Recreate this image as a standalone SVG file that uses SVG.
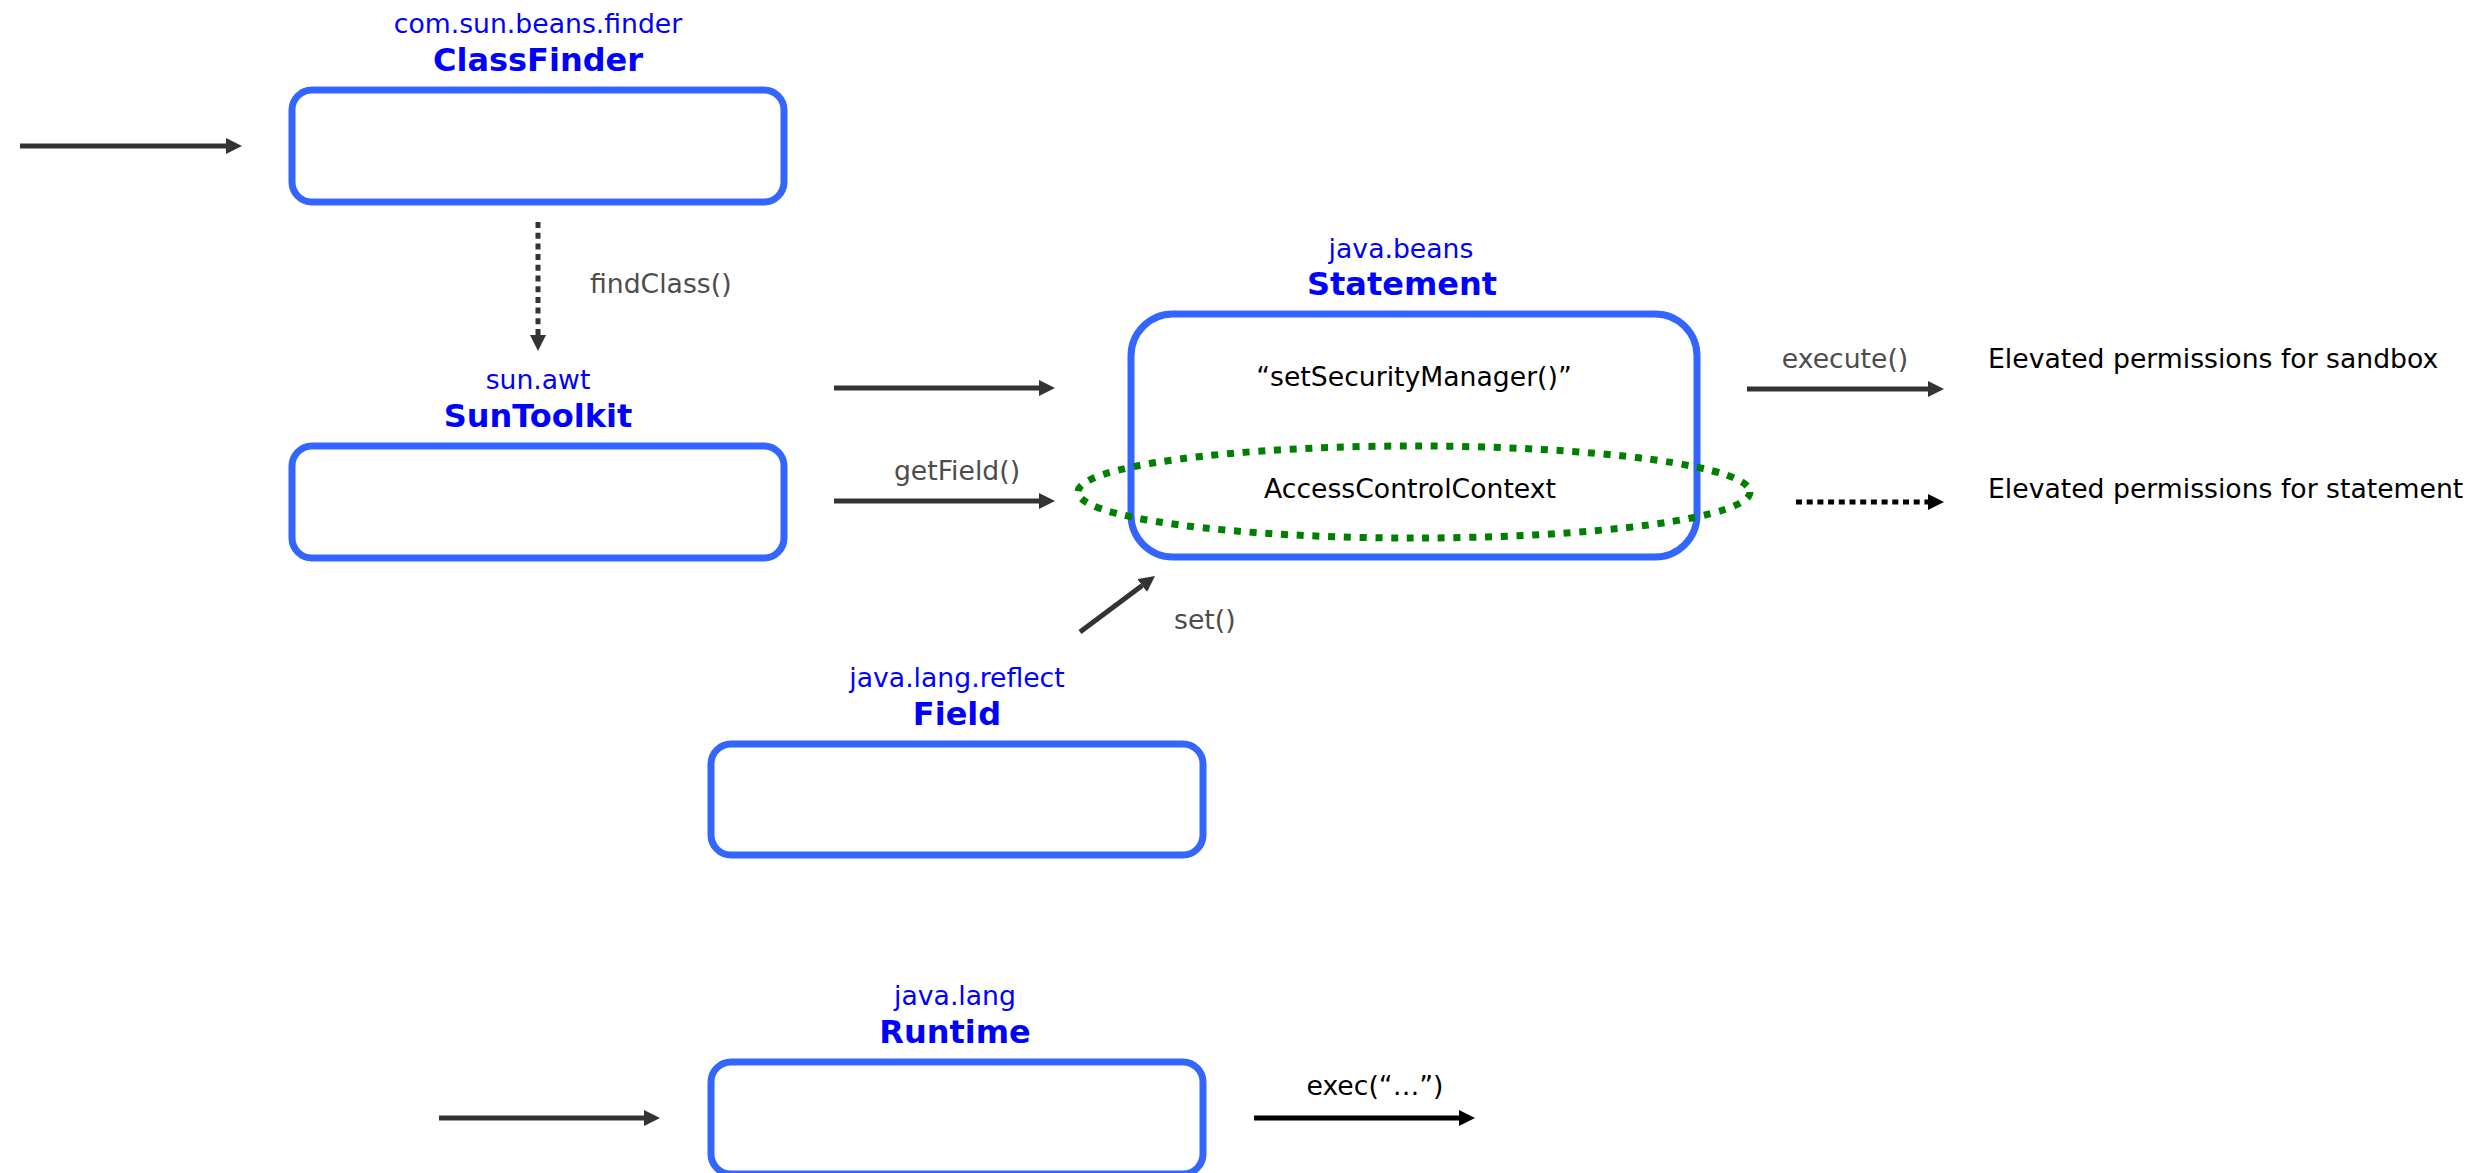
<svg xmlns="http://www.w3.org/2000/svg" width="2476" height="1173" viewBox="0 0 2476 1173">
  <defs>
    <style>
      .box { fill: #ffffff; stroke: #3366ff; stroke-width: 7; }
      .pkg { font-family: "DejaVu Sans", sans-serif; font-size: 26.67px; fill: #0000ff; text-anchor: middle; }
      .cls { font-family: "DejaVu Sans", sans-serif; font-size: 32px; font-weight: bold; fill: #0000ff; text-anchor: middle; }
      .lbl { font-family: "DejaVu Sans", sans-serif; font-size: 26.67px; fill: #4d4d4d; }
      .txt { font-family: "DejaVu Sans", sans-serif; font-size: 26.67px; fill: #000000; }
      .mid { text-anchor: middle; }
      .edge { fill: none; stroke: #333333; stroke-width: 5; }
      .edge-black { fill: none; stroke: #000000; stroke-width: 5; }
      .dots { stroke-dasharray: 6 4.7; }
    </style>
    <marker id="head" markerUnits="userSpaceOnUse" markerWidth="16" markerHeight="16" refX="0" refY="8" orient="auto">
      <path d="M0,0 L16,8 L0,16 z" fill="#333333"/>
    </marker>
    <marker id="head-black" markerUnits="userSpaceOnUse" markerWidth="16" markerHeight="16" refX="0" refY="8" orient="auto">
      <path d="M0,0 L16,8 L0,16 z" fill="#000000"/>
    </marker>
  </defs>

  <rect width="2476" height="1173" fill="#ffffff"/>

  <!-- classes -->
  <g id="classfinder">
    <text class="pkg" x="538" y="33">com.sun.beans.finder</text>
    <text class="cls" x="538" y="71">ClassFinder</text>
    <rect class="box" x="292" y="90" width="492" height="112" rx="20"/>
  </g>

  <g id="suntoolkit">
    <text class="pkg" x="538" y="389">sun.awt</text>
    <text class="cls" x="538" y="427">SunToolkit</text>
    <rect class="box" x="292" y="446" width="492" height="112" rx="20"/>
  </g>

  <g id="statement">
    <text class="pkg" x="1401" y="258">java.beans</text>
    <text class="cls" x="1402" y="295">Statement</text>
    <rect class="box" x="1131" y="314" width="566" height="243" rx="42"/>
    <text class="txt mid" x="1414" y="386">“setSecurityManager()”</text>
    <text class="txt mid" x="1410" y="498">AccessControlContext</text>
  </g>

  <g id="acc-highlight">
    <ellipse cx="1414" cy="492" rx="336" ry="46" fill="none" stroke="#008000" stroke-width="7" stroke-dasharray="7 8.7"/>
  </g>

  <g id="field">
    <text class="pkg" x="957" y="687">java.lang.reflect</text>
    <text class="cls" x="957" y="725">Field</text>
    <rect class="box" x="711" y="744" width="492" height="111" rx="20"/>
  </g>

  <g id="runtime">
    <text class="pkg" x="955" y="1005">java.lang</text>
    <text class="cls" x="955" y="1043">Runtime</text>
    <rect class="box" x="711" y="1062" width="492" height="112" rx="20"/>
  </g>

  <g id="outcomes">
    <text class="txt" x="1988" y="368">Elevated permissions for sandbox</text>
    <text class="txt" x="1988" y="498">Elevated permissions for statement</text>
  </g>

  <!-- connectors -->
  <g id="connectors">
    <path class="edge" d="M20,146 H226" marker-end="url(#head)"/>

    <path class="edge dots" d="M538,222 V335" marker-end="url(#head)"/>
    <text class="lbl" x="590" y="293">findClass()</text>

    <path class="edge" d="M834,388 H1039" marker-end="url(#head)"/>

    <path class="edge" d="M834,501 H1039" marker-end="url(#head)"/>
    <text class="lbl mid" x="957" y="480">getField()</text>

    <path class="edge" d="M1080,632 L1142.2,585.6" marker-end="url(#head)"/>
    <text class="lbl" x="1174" y="629">set()</text>

    <path class="edge" d="M1747,389 H1928" marker-end="url(#head)"/>
    <text class="lbl mid" x="1845" y="368">execute()</text>

    <path class="edge-black dots" d="M1796,502 H1928" marker-end="url(#head-black)"/>

    <path class="edge" d="M439,1118 H644" marker-end="url(#head)"/>

    <path class="edge-black" d="M1254,1118 H1459" marker-end="url(#head-black)"/>
    <text class="txt mid" x="1375" y="1095">exec(“…”)</text>
  </g>
</svg>
